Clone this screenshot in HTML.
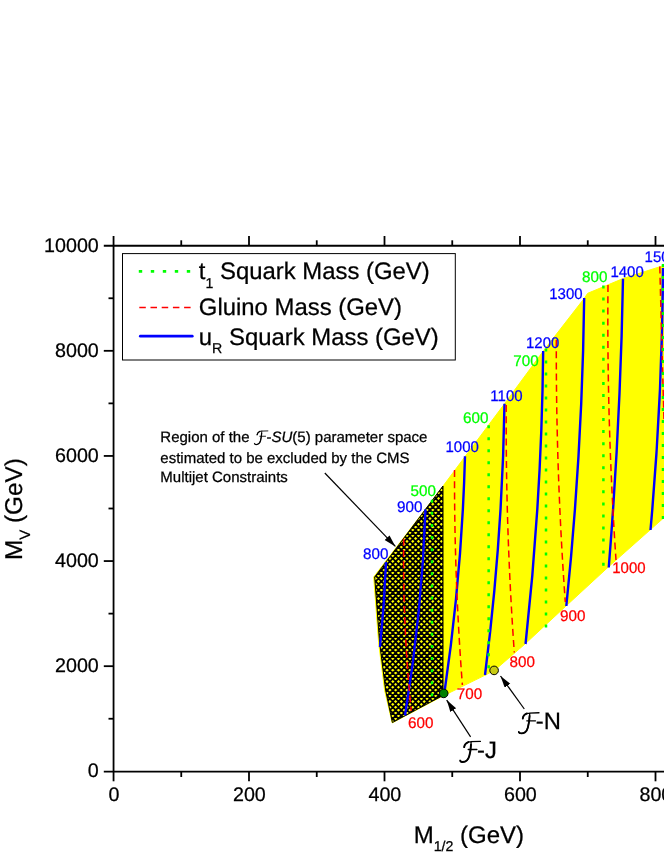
<!DOCTYPE html>
<html><head><meta charset="utf-8"><title>chart</title>
<style>
html,body{margin:0;padding:0;background:#fff;}
svg{display:block;will-change:transform;}
text{font-family:"Liberation Sans",sans-serif;text-rendering:geometricPrecision;}
.k{stroke:#000;stroke-width:0.25px;}
</style></head><body>
<svg width="664" height="860" viewBox="0 0 664 860">
<defs>
<marker id="ah" markerWidth="13" markerHeight="8" refX="12" refY="3.4" orient="auto" markerUnits="userSpaceOnUse">
<path d="M0,0 L12,3.4 L0,6.8 Z" fill="#000"/>
</marker>
</defs>
<rect width="664" height="860" fill="#fff"/>

<polygon points="373.7,577 443.25,485.75 504.5,403.75 543.5,350.75 584.25,298.3 587.7,293.3 623,278.6 664,265.4 664,517.6 608.75,566.6 566,606 525,644 494.3,670.6 443.3,695.8 392.2,722.9 384.6,690.3 378.6,642.6" fill="#ffff00" stroke="#ffff00" stroke-width="1"/>
<clipPath id="hc"><polygon points="374.7,577 443.0,486 443.0,695.4 392.4,722.5 385.6,690 379.6,642.5"/></clipPath>
<g clip-path="url(#hc)"><path d="M370,404.22 L447,481.22 M370,409.94 L447,486.94 M370,415.66 L447,492.66 M370,421.38 L447,498.38 M370,427.10 L447,504.10 M370,432.82 L447,509.82 M370,438.54 L447,515.54 M370,444.26 L447,521.26 M370,449.98 L447,526.98 M370,455.70 L447,532.70 M370,461.42 L447,538.42 M370,467.14 L447,544.14 M370,472.86 L447,549.86 M370,478.58 L447,555.58 M370,484.30 L447,561.30 M370,490.02 L447,567.02 M370,495.74 L447,572.74 M370,501.46 L447,578.46 M370,507.18 L447,584.18 M370,512.90 L447,589.90 M370,518.62 L447,595.62 M370,524.34 L447,601.34 M370,530.06 L447,607.06 M370,535.78 L447,612.78 M370,541.50 L447,618.50 M370,547.22 L447,624.22 M370,552.94 L447,629.94 M370,558.66 L447,635.66 M370,564.38 L447,641.38 M370,570.10 L447,647.10 M370,575.82 L447,652.82 M370,581.54 L447,658.54 M370,587.26 L447,664.26 M370,592.98 L447,669.98 M370,598.70 L447,675.70 M370,604.42 L447,681.42 M370,610.14 L447,687.14 M370,615.86 L447,692.86 M370,621.58 L447,698.58 M370,627.30 L447,704.30 M370,633.02 L447,710.02 M370,638.74 L447,715.74 M370,644.46 L447,721.46 M370,650.18 L447,727.18 M370,655.90 L447,732.90 M370,661.62 L447,738.62 M370,667.34 L447,744.34 M370,673.06 L447,750.06 M370,678.78 L447,755.78 M370,684.50 L447,761.50 M370,690.22 L447,767.22 M370,695.94 L447,772.94 M370,701.66 L447,778.66 M370,707.38 L447,784.38 M370,713.10 L447,790.10 M370,718.82 L447,795.82 M370,724.54 L447,801.54 M370,478.36 L447,401.36 M370,484.08 L447,407.08 M370,489.80 L447,412.80 M370,495.52 L447,418.52 M370,501.24 L447,424.24 M370,506.96 L447,429.96 M370,512.68 L447,435.68 M370,518.40 L447,441.40 M370,524.12 L447,447.12 M370,529.84 L447,452.84 M370,535.56 L447,458.56 M370,541.28 L447,464.28 M370,547.00 L447,470.00 M370,552.72 L447,475.72 M370,558.44 L447,481.44 M370,564.16 L447,487.16 M370,569.88 L447,492.88 M370,575.60 L447,498.60 M370,581.32 L447,504.32 M370,587.04 L447,510.04 M370,592.76 L447,515.76 M370,598.48 L447,521.48 M370,604.20 L447,527.20 M370,609.92 L447,532.92 M370,615.64 L447,538.64 M370,621.36 L447,544.36 M370,627.08 L447,550.08 M370,632.80 L447,555.80 M370,638.52 L447,561.52 M370,644.24 L447,567.24 M370,649.96 L447,572.96 M370,655.68 L447,578.68 M370,661.40 L447,584.40 M370,667.12 L447,590.12 M370,672.84 L447,595.84 M370,678.56 L447,601.56 M370,684.28 L447,607.28 M370,690.00 L447,613.00 M370,695.72 L447,618.72 M370,701.44 L447,624.44 M370,707.16 L447,630.16 M370,712.88 L447,635.88 M370,718.60 L447,641.60 M370,724.32 L447,647.32 M370,730.04 L447,653.04 M370,735.76 L447,658.76 M370,741.48 L447,664.48 M370,747.20 L447,670.20 M370,752.92 L447,675.92 M370,758.64 L447,681.64 M370,764.36 L447,687.36 M370,770.08 L447,693.08 M370,775.80 L447,698.80 M370,781.52 L447,704.52 M370,787.24 L447,710.24 M370,792.96 L447,715.96 M370,798.68 L447,721.68" stroke="#000" stroke-width="1.8" fill="none"/></g>
<polygon points="374.7,577 443.0,486 443.0,695.4 392.4,722.5 385.6,690 379.6,642.5" fill="none" stroke="#000" stroke-width="1"/>
<path d="M386.00,562.00 Q384.39,604.50 380.00,647.00" fill="none" stroke="#0000ff" stroke-width="2.4" />
<path d="M425.49,509.25 Q422.03,612.38 405.01,715.50" fill="none" stroke="#0000ff" stroke-width="2.4" />
<path d="M465.00,456.25 Q461.90,574.12 444.50,692.00" fill="none" stroke="#0000ff" stroke-width="2.4" />
<path d="M504.50,403.75 Q502.39,539.38 485.00,675.00" fill="none" stroke="#0000ff" stroke-width="2.4" />
<path d="M543.17,351.00 Q541.75,497.50 525.55,644.00" fill="none" stroke="#0000ff" stroke-width="2.4" />
<path d="M584.19,298.00 Q582.24,452.00 566.32,606.00" fill="none" stroke="#0000ff" stroke-width="2.4" />
<path d="M623.00,278.75 Q620.41,423.12 608.75,567.50" fill="none" stroke="#0000ff" stroke-width="2.4" />
<path d="M663.00,268.00 Q662.33,399.00 650.50,530.00" fill="none" stroke="#0000ff" stroke-width="2.4" />
<path d="M403.75,538.75 Q402.55,624.88 411.25,711.00" fill="none" stroke="#ff0000" stroke-width="1.5" stroke-dasharray="7 4.2" />
<path d="M454.54,470.00 Q454.17,577.50 462.38,685.00" fill="none" stroke="#ff0000" stroke-width="1.5" stroke-dasharray="7 4.2" />
<path d="M506.25,405.00 Q505.51,528.75 514.30,652.50" fill="none" stroke="#ff0000" stroke-width="1.5" stroke-dasharray="7 4.2" />
<path d="M556.32,340.00 Q555.88,471.00 565.28,602.00" fill="none" stroke="#ff0000" stroke-width="1.5" stroke-dasharray="7 4.2" />
<path d="M608.00,285.00 Q606.67,422.50 616.00,560.00" fill="none" stroke="#ff0000" stroke-width="1.5" stroke-dasharray="7 4.2" />
<path d="M659.80,266.50 Q661.76,343.25 664.00,420.00" fill="none" stroke="#ff0000" stroke-width="1.5" stroke-dasharray="7 4.2" />
<path d="M432.0,499.75 L432.0,696.35" stroke="#00ff00" stroke-width="2.5" stroke-dasharray="3.0 9.10" fill="none"/>
<path d="M488.65,425.30 L488.65,668.30" stroke="#00ff00" stroke-width="2.5" stroke-dasharray="3.0 9.00" fill="none"/>
<path d="M546,348.50 L546,627.50" stroke="#00ff00" stroke-width="2.5" stroke-dasharray="3.0 9.00" fill="none"/>
<path d="M603.4,285.50 L603.4,565.65" stroke="#00ff00" stroke-width="2.5" stroke-dasharray="3.0 9.05" fill="none"/>
<path d="M663,264.00 L663,519.00" stroke="#00ff00" stroke-width="2.5" stroke-dasharray="3.0 9.00" fill="none"/>
<circle cx="443.7" cy="693.4" r="4.3" fill="#008000" stroke="#000" stroke-width="1"/>
<circle cx="494.1" cy="670.4" r="4.3" fill="#c8cb14" stroke="#000" stroke-width="1"/>
<text transform="translate(363,559) scale(0.99,1.0)" font-size="15.4" fill="#0000ff" stroke="#0000ff" stroke-width="0.25">800</text>
<text transform="translate(397,512) scale(0.99,1.0)" font-size="15.4" fill="#0000ff" stroke="#0000ff" stroke-width="0.25">900</text>
<text transform="translate(445.5,452) scale(0.975,1.0)" font-size="15.4" fill="#0000ff" stroke="#0000ff" stroke-width="0.25">1000</text>
<text transform="translate(490.3,400.75) scale(0.975,1.0)" font-size="15.4" fill="#0000ff" stroke="#0000ff" stroke-width="0.25">1100</text>
<text transform="translate(526,347.5) scale(0.975,1.0)" font-size="15.4" fill="#0000ff" stroke="#0000ff" stroke-width="0.25">1200</text>
<text transform="translate(549.2,299.1) scale(0.975,1.0)" font-size="15.4" fill="#0000ff" stroke="#0000ff" stroke-width="0.25">1300</text>
<text transform="translate(610.4,276.7) scale(0.975,1.0)" font-size="15.4" fill="#0000ff" stroke="#0000ff" stroke-width="0.25">1400</text>
<text transform="translate(644.6,262) scale(0.975,1.0)" font-size="15.4" fill="#0000ff" stroke="#0000ff" stroke-width="0.25">1500</text>
<text transform="translate(410.6,495.5) scale(0.99,1.0)" font-size="15.4" fill="#00ff00" stroke="#00ff00" stroke-width="0.25">500</text>
<text transform="translate(463,423) scale(0.99,1.0)" font-size="15.4" fill="#00ff00" stroke="#00ff00" stroke-width="0.25">600</text>
<text transform="translate(513.2,365.5) scale(0.99,1.0)" font-size="15.4" fill="#00ff00" stroke="#00ff00" stroke-width="0.25">700</text>
<text transform="translate(582,282) scale(0.99,1.0)" font-size="15.4" fill="#00ff00" stroke="#00ff00" stroke-width="0.25">800</text>
<text transform="translate(408,728) scale(0.99,1.0)" font-size="15.4" fill="#ff0000" stroke="#ff0000" stroke-width="0.25">600</text>
<text transform="translate(456.7,699.3) scale(0.99,1.0)" font-size="15.4" fill="#ff0000" stroke="#ff0000" stroke-width="0.25">700</text>
<text transform="translate(509.6,667.2) scale(0.99,1.0)" font-size="15.4" fill="#ff0000" stroke="#ff0000" stroke-width="0.25">800</text>
<text transform="translate(560,621) scale(0.99,1.0)" font-size="15.4" fill="#ff0000" stroke="#ff0000" stroke-width="0.25">900</text>
<text transform="translate(612.2,572.5) scale(0.975,1.0)" font-size="15.4" fill="#ff0000" stroke="#ff0000" stroke-width="0.25">1000</text>
<g stroke="#000" stroke-width="1.8" fill="none">
<path d="M113.55,236 L113.55,772"/>
<path d="M103.8,245.75 L664,245.75"/>
<path d="M103.8,771.6 L664,771.6"/>
<path d="M113.55,771.6 L113.55,781.3"/>
<path d="M181.25,240.3 L181.25,245.75"/>
<path d="M181.25,771.6 L181.25,777"/>
<path d="M249.00,236 L249.00,245.75"/>
<path d="M249.00,771.6 L249.00,781.3"/>
<path d="M316.75,240.3 L316.75,245.75"/>
<path d="M316.75,771.6 L316.75,777"/>
<path d="M384.50,236 L384.50,245.75"/>
<path d="M384.50,771.6 L384.50,781.3"/>
<path d="M452.25,240.3 L452.25,245.75"/>
<path d="M452.25,771.6 L452.25,777"/>
<path d="M520.00,236 L520.00,245.75"/>
<path d="M520.00,771.6 L520.00,781.3"/>
<path d="M587.75,240.3 L587.75,245.75"/>
<path d="M587.75,771.6 L587.75,777"/>
<path d="M655.50,236 L655.50,245.75"/>
<path d="M655.50,771.6 L655.50,781.3"/>
<path d="M108.5,718.74 L113.55,718.74"/>
<path d="M103.8,666.18 L113.55,666.18"/>
<path d="M108.5,613.62 L113.55,613.62"/>
<path d="M103.8,561.06 L113.55,561.06"/>
<path d="M108.5,508.50 L113.55,508.50"/>
<path d="M103.8,455.94 L113.55,455.94"/>
<path d="M108.5,403.38 L113.55,403.38"/>
<path d="M103.8,350.82 L113.55,350.82"/>
<path d="M108.5,298.26 L113.55,298.26"/>
</g>
<text x="98.8" y="777.30" font-size="19.7" text-anchor="end" fill="#000" class="k">0</text>
<text x="98.8" y="672.18" font-size="19.7" text-anchor="end" fill="#000" class="k">2000</text>
<text x="98.8" y="567.06" font-size="19.7" text-anchor="end" fill="#000" class="k">4000</text>
<text x="98.8" y="461.94" font-size="19.7" text-anchor="end" fill="#000" class="k">6000</text>
<text x="98.8" y="356.82" font-size="19.7" text-anchor="end" fill="#000" class="k">8000</text>
<text x="98.8" y="251.70" font-size="19.7" text-anchor="end" fill="#000" class="k">10000</text>
<text x="113.90" y="801.3" font-size="19.7" text-anchor="middle" fill="#000" class="k">0</text>
<text x="249.40" y="801.3" font-size="19.7" text-anchor="middle" fill="#000" class="k">200</text>
<text x="384.90" y="801.3" font-size="19.7" text-anchor="middle" fill="#000" class="k">400</text>
<text x="520.40" y="801.3" font-size="19.7" text-anchor="middle" fill="#000" class="k">600</text>
<text x="655.90" y="801.3" font-size="19.7" text-anchor="middle" fill="#000" class="k">800</text>
<text x="413.7" y="842.6" font-size="24.0" fill="#000" class="k">M<tspan font-size="14.2" dy="8">1/2</tspan><tspan dy="-8"> (GeV)</tspan></text>
<text transform="translate(22,560) rotate(-90)" font-size="24.3" fill="#000" class="k">M<tspan font-size="15" dy="8">V</tspan><tspan dy="-8"> (GeV)</tspan></text>
<rect x="122.5" y="253.6" width="332.8" height="106.4" fill="#fff" stroke="#000" stroke-width="1"/>
<path d="M138.8,271.4 L191,271.4" stroke="#00ff00" stroke-width="2.9" stroke-dasharray="3.4 8.6" fill="none"/>
<path d="M139.3,307.4 L191,307.4" stroke="#ff0000" stroke-width="1.5" stroke-dasharray="6.5 4.7" fill="none"/>
<path d="M140.3,336.2 L192.3,336.2" stroke="#0000ff" stroke-width="2.7" stroke-linecap="round" fill="none"/>
<text x="198.8" y="279.4" font-size="23.9" fill="#000" class="k">t<tspan font-size="14.2" dy="8.4">1</tspan><tspan dy="-8.4"> Squark Mass (GeV)</tspan></text>
<text x="198.8" y="315.1" font-size="23.9" fill="#000" class="k">Gluino Mass (GeV)</text>
<text x="198.8" y="345.0" font-size="23.9" fill="#000" class="k">u<tspan font-size="14.2" dy="8.1">R</tspan><tspan dy="-8.1"> Squark Mass (GeV)</tspan></text>
<text font-size="15" fill="#000" class="k"><tspan x="160.3" y="441.6">Region of the </tspan><tspan dx="12.8">-</tspan><tspan font-style="italic">SU</tspan>(5) parameter space<tspan x="160.3" y="463.0">estimated to be excluded by the CMS</tspan><tspan x="160.3" y="481.9">Multijet Constraints</tspan></text>
<g transform="translate(254.2,441.6) scale(0.66)"><g fill="none" stroke="#000" stroke-linecap="round" stroke-linejoin="round"><path d="M4.4,-10.3 C4.6,-13.2 7.5,-15.9 11,-15.9 L20.7,-16.2 M11.5,-15.9 C11.3,-11 10.8,-6 9.6,-1.5 C8.6,2.2 6,4.5 2.9,4.5 C1.5,4.5 0.4,4 0.4,2.6 M8.5,-8.1 L17.2,-8.1" stroke-width="1.3"/><path d="M4.5,-10.5 C4.8,-13 6.5,-14.8 8.6,-15.5 M11.3,-13 C11.1,-9 10.6,-5 9.6,-1.5 C8.6,2.2 6,4.4 2.9,4.4 C1.8,4.4 0.9,4.1 0.6,3.3" stroke-width="1.9"/></g></g>
<path d="M324.8,473 L395.4,546.4" stroke="#000" stroke-width="1.2" marker-end="url(#ah)" fill="none"/>
<g transform="translate(459.7,757.6) scale(1.0)"><g fill="none" stroke="#000" stroke-linecap="round" stroke-linejoin="round"><path d="M4.4,-10.3 C4.6,-13.2 7.5,-15.9 11,-15.9 L20.7,-16.2 M11.5,-15.9 C11.3,-11 10.8,-6 9.6,-1.5 C8.6,2.2 6,4.5 2.9,4.5 C1.5,4.5 0.4,4 0.4,2.6 M8.5,-8.1 L17.2,-8.1" stroke-width="1.3"/><path d="M4.5,-10.5 C4.8,-13 6.5,-14.8 8.6,-15.5 M11.3,-13 C11.1,-9 10.6,-5 9.6,-1.5 C8.6,2.2 6,4.4 2.9,4.4 C1.8,4.4 0.9,4.1 0.6,3.3" stroke-width="1.9"/></g></g>
<text x="477.1" y="757.6" font-size="23.8" fill="#000" class="k">-J</text>
<g transform="translate(518.3,728.95) scale(1.0)"><g fill="none" stroke="#000" stroke-linecap="round" stroke-linejoin="round"><path d="M4.4,-10.3 C4.6,-13.2 7.5,-15.9 11,-15.9 L20.7,-16.2 M11.5,-15.9 C11.3,-11 10.8,-6 9.6,-1.5 C8.6,2.2 6,4.5 2.9,4.5 C1.5,4.5 0.4,4 0.4,2.6 M8.5,-8.1 L17.2,-8.1" stroke-width="1.3"/><path d="M4.5,-10.5 C4.8,-13 6.5,-14.8 8.6,-15.5 M11.3,-13 C11.1,-9 10.6,-5 9.6,-1.5 C8.6,2.2 6,4.4 2.9,4.4 C1.8,4.4 0.9,4.1 0.6,3.3" stroke-width="1.9"/></g></g>
<text x="535.8" y="728.95" font-size="23.8" fill="#000" class="k">-N</text>
<path d="M470.6,736.8 L446.7,700.1" stroke="#000" stroke-width="1.2" marker-end="url(#ah)" fill="none"/>
<path d="M524.3,709 L500.5,676" stroke="#000" stroke-width="1.2" marker-end="url(#ah)" fill="none"/>
</svg></body></html>
